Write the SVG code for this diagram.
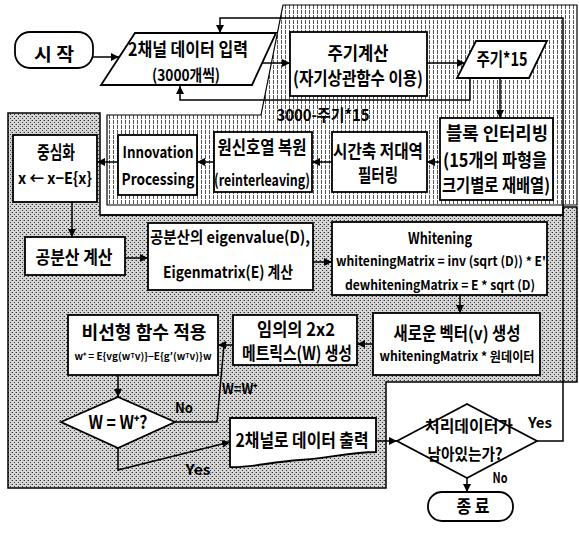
<svg xmlns="http://www.w3.org/2000/svg" width="579" height="533" viewBox="0 0 579 533">
<defs>
<pattern id="dots" width="4" height="4" patternUnits="userSpaceOnUse"><rect width="4" height="4" fill="#d6d6d6"/><rect x="0" y="0" width="1" height="1" fill="#333"/><rect x="2" y="2" width="1" height="1" fill="#333"/><rect x="3" y="0" width="1" height="1" fill="#999"/></pattern>
<pattern id="stripes" width="4" height="5" patternUnits="userSpaceOnUse"><rect width="4" height="5" fill="#fff"/><rect x="1" y="0" width="1" height="4" fill="#555"/></pattern>
<marker id="ah" markerWidth="8" markerHeight="8" refX="8" refY="4" orient="auto" markerUnits="userSpaceOnUse"><path d="M0,0 L8,4 L0,8 z" fill="#000"/></marker>
</defs>
<style>
.b{fill:#fff;stroke:#000;stroke-width:1.8}
.c{fill:none;stroke:#000;stroke-width:1.5}
.a{marker-end:url(#ah)}
text{font-family:"Noto Sans CJK KR","Liberation Sans",sans-serif;font-weight:700;fill:#000;text-anchor:middle}
.k{font-size:18px}
.m{font-size:16px}
.s{font-size:13px}
.l{font-size:14px}
</style>
<rect width="579" height="533" fill="#fff"/>
<polygon points="8,113 100,113 100,215 563,215 563,207 577,207 577,382 386,382 386,488 8,488" fill="url(#dots)" stroke="#000" stroke-width="1.5"/>
<polygon points="283,5 577,5 577,205 107,205 107,115 261,115" fill="url(#stripes)" stroke="#000" stroke-width="1.2"/>
<line x1="100" y1="215" x2="563" y2="215" stroke="#000" stroke-width="1.5"/>
<g id="connectors">
<path class="c a" d="M93,57 H119"/>
<path class="c a" d="M262,63 H290"/>
<path class="c a" d="M427,63 H465"/>
<path class="c a" d="M500,78 V118"/>
<path class="c a" d="M470,78 V100 H180 V86"/>
<path class="c a" d="M440,162 H427"/>
<path class="c a" d="M332,162 H312"/>
<path class="c a" d="M214,162 H197"/>
<path class="c a" d="M118,162 H97"/>
<path class="c a" d="M72,202 V237"/>
<path class="c a" d="M125,258 H148"/>
<path class="c a" d="M313,262 H332"/>
<path class="c a" d="M460,295 V313"/>
<path class="c a" d="M373,344 H357"/>
<path class="c a" d="M233,345 H218"/>
<path class="c a" d="M118,375 V397"/>
<path class="c" d="M175,422 H217 L224,345"/>
<path class="c a" d="M118,448 V470 L230,442"/>
<path class="c a" d="M376,441 H397"/>
<path class="c a" d="M467,478 V492"/>
<path class="c a" d="M537,441 H563 V18 H220 V33"/>
<text class="m" x="323" y="121" textLength="93" lengthAdjust="spacingAndGlyphs">3000-주기*15</text>
<text class="l" x="184" y="413" textLength="18" lengthAdjust="spacingAndGlyphs">No</text>
<text class="l" x="240" y="394" textLength="36" lengthAdjust="spacingAndGlyphs">W=W⁺</text>
<text class="l" x="198" y="475" textLength="25" lengthAdjust="spacingAndGlyphs">Yes</text>
<text class="l" x="540" y="428" textLength="24" lengthAdjust="spacingAndGlyphs">Yes</text>
<text class="l" x="500" y="483" textLength="15" lengthAdjust="spacingAndGlyphs">No</text>
</g>
<g id="start">
<rect class="b" x="15" y="32" width="78" height="36" rx="15"/>
<text class="k" x="54" y="61" textLength="40" lengthAdjust="spacingAndGlyphs">시 작</text>
</g>
<g id="input">
<polygon class="b" points="135,33 276,33 252,85 101,85"/>
<text class="k" x="188" y="56" textLength="120" lengthAdjust="spacingAndGlyphs">2채널 데이터 입력</text>
<text class="m" x="186" y="81" textLength="68" lengthAdjust="spacingAndGlyphs">(3000개씩)</text>
</g>
<g id="period">
<rect class="b" x="290" y="32" width="137" height="64"/>
<text class="k" x="358" y="60" textLength="61" lengthAdjust="spacingAndGlyphs">주기계산</text>
<text class="k" x="358" y="85" textLength="130" lengthAdjust="spacingAndGlyphs">(자기상관함수 이용)</text>
</g>
<g id="period15">
<polygon class="b" points="476,41 547,41 529,78 457,78"/>
<text class="k" x="502" y="66" textLength="51" lengthAdjust="spacingAndGlyphs">주기*15</text>
</g>
<g id="interleave">
<rect class="b" x="440" y="118" width="113" height="82"/>
<text class="k" x="497" y="140" textLength="102" lengthAdjust="spacingAndGlyphs">블록 인터리빙</text>
<text class="k" x="495" y="167" textLength="104" lengthAdjust="spacingAndGlyphs">(15개의 파형을</text>
<text class="k" x="496" y="192" textLength="108" lengthAdjust="spacingAndGlyphs">크기별로 재배열)</text>
</g>
<g id="lowpass">
<rect class="b" x="332" y="132" width="95" height="60"/>
<text class="k" x="378" y="158" textLength="90" lengthAdjust="spacingAndGlyphs">시간축 저대역</text>
<text class="k" x="378" y="182" textLength="40" lengthAdjust="spacingAndGlyphs">필터링</text>
</g>
<g id="reinterleave">
<rect class="b" x="214" y="132" width="98" height="60"/>
<text class="k" x="262" y="154" textLength="89" lengthAdjust="spacingAndGlyphs">원신호열 복원</text>
<text class="m" x="262" y="186" textLength="96" lengthAdjust="spacingAndGlyphs">(reinterleaving)</text>
</g>
<g id="innovation">
<rect class="b" x="118" y="135" width="79" height="60"/>
<text class="m" x="158" y="158" textLength="71" lengthAdjust="spacingAndGlyphs">Innovation</text>
<text class="m" x="158" y="185" textLength="73" lengthAdjust="spacingAndGlyphs">Processing</text>
</g>
<g id="centering">
<rect class="b" x="13" y="135" width="84" height="67"/>
<text class="k" x="56" y="159" textLength="38" lengthAdjust="spacingAndGlyphs">중심화</text>
<text class="m" x="55" y="184" textLength="74" lengthAdjust="spacingAndGlyphs">x ← x−E{x}</text>
</g>
<g id="covariance">
<rect class="b" x="25" y="237" width="100" height="38"/>
<text class="k" x="74" y="264" textLength="77" lengthAdjust="spacingAndGlyphs">공분산 계산</text>
</g>
<g id="eigen">
<rect class="b" x="148" y="223" width="165" height="67"/>
<text class="m" x="230" y="243" textLength="160" lengthAdjust="spacingAndGlyphs">공분산의 eigenvalue(D),</text>
<text class="m" x="228" y="278" textLength="130" lengthAdjust="spacingAndGlyphs">Eigenmatrix(E) 계산</text>
</g>
<g id="whitening">
<rect class="b" x="332" y="222" width="215" height="73"/>
<text class="m" x="440" y="244" textLength="64" lengthAdjust="spacingAndGlyphs">Whitening</text>
<text class="s" x="441" y="266" textLength="210" lengthAdjust="spacingAndGlyphs">whiteningMatrix = inv (sqrt (D)) * E'</text>
<text class="s" x="440" y="290" textLength="190" lengthAdjust="spacingAndGlyphs">dewhiteningMatrix = E * sqrt (D)</text>
</g>
<g id="newvector">
<rect class="b" x="373" y="313" width="167" height="62"/>
<text class="k" x="457" y="340" textLength="127" lengthAdjust="spacingAndGlyphs">새로운 벡터(v) 생성</text>
<text class="s" x="457" y="361" textLength="155" lengthAdjust="spacingAndGlyphs">whiteningMatrix * 원데이터</text>
</g>
<g id="randomW">
<rect class="b" x="233" y="315" width="124" height="50"/>
<text class="k" x="296" y="336" textLength="78" lengthAdjust="spacingAndGlyphs">임의의 2x2</text>
<text class="k" x="297" y="360" textLength="110" lengthAdjust="spacingAndGlyphs">메트릭스(W) 생성</text>
</g>
<g id="nonlinear">
<rect class="b" x="68" y="315" width="150" height="60"/>
<text class="k" x="144" y="339" textLength="125" lengthAdjust="spacingAndGlyphs">비선형 함수 적용</text>
<text x="143" y="360" style="font-size:10px" textLength="137" lengthAdjust="spacingAndGlyphs">w⁺ = E{vg(wᵀv)}−E{g′(wᵀv)}w</text>
</g>
<g id="converge">
<polygon class="b" points="61,422 118,397 175,422 118,448"/>
<text class="k" x="118" y="429" textLength="59" lengthAdjust="spacingAndGlyphs">W = W⁺?</text>
</g>
<g id="output">
<path class="b" d="M230,418 H376 V452 C350,452 330,458 300,460 C270,462 250,468 230,467 Z"/>
<text class="k" x="302" y="447" textLength="133" lengthAdjust="spacingAndGlyphs">2채널로 데이터 출력</text>
</g>
<g id="remaining">
<polygon class="b" points="397,441 467,404 537,441 467,478"/>
<text class="m" x="469" y="432" textLength="88" lengthAdjust="spacingAndGlyphs">처리데이터가</text>
<text class="m" x="465" y="460" textLength="75" lengthAdjust="spacingAndGlyphs">남아있는가?</text>
</g>
<g id="end">
<rect class="b" x="428" y="492" width="85" height="29" rx="14"/>
<text class="k" x="473" y="513" textLength="33" lengthAdjust="spacingAndGlyphs">종 료</text>
</g>
</svg>
